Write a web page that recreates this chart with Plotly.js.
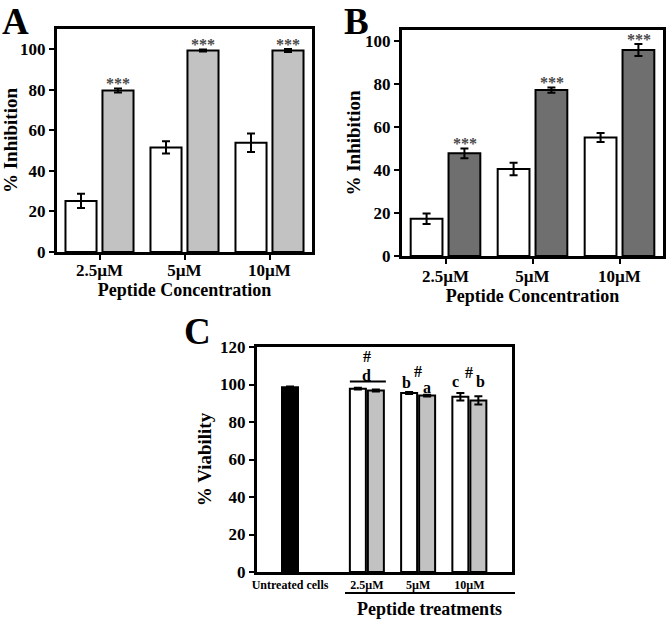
<!DOCTYPE html>
<html>
<head>
<meta charset="utf-8">
<script src="https://cdn.plot.ly/plotly-3.0.1.min.js"></script>
<style>html,body{margin:0;padding:0;background:#fff;}#chart{width:666px;height:619px;}</style>
</head>
<body>
<div id="chart"></div>
<script>
// ---- data ----
const catsAB = ['2.5µM', '5µM', '10µM'];
const aControl = [25.2, 51.6, 53.9];
const aControlErr = [3.5, 3.0, 4.6];
const aPeptide = [79.7, 99.4, 99.4];
const aPeptideErr = [1.0, 0.5, 0.7];
const bControl = [17.3, 40.4, 55.1];
const bControlErr = [2.4, 2.9, 2.1];
const bPeptide = [47.7, 77.1, 95.7];
const bPeptideErr = [2.3, 1.2, 2.8];
const cLabels = ['Untreated cells', '2.5µM', '5µM', '10µM'];
const cUntreated = [98.5];
const cUntreatedErr = [0.5];
const cWhite = [97.8, 95.5, 93.5];
const cWhiteErr = [0.5, 0.5, 2.0];
const cGray = [96.8, 94.1, 91.5];
const cGrayErr = [0.5, 0.5, 2.2];
const cWhiteLetters = ['', 'b', 'c'];
const cGrayLetters = ['', 'a', 'b'];
const cPairLetters = ['d', '', ''];
const cHash = ['#', '#', '#'];
const stars = ['***', '***', '***'];

// ---- style ----
const FONT = 'Liberation Serif, Times New Roman, serif';
const LIGHT = '#c2c2c2';
const DARK = '#6f6f6f';
const cGroupPos = [1.5, 2.5, 3.5];
const cUnit = 51.25;            // px per x unit in panel C
const cBarW = 16 / cUnit;

function err(arr) { return {type: 'data', array: arr, visible: true, color: '#000', thickness: 2, width: 4}; }
const barLine = {color: '#000', width: 2};

const traces = [
  {type: 'bar', x: catsAB, y: aControl, error_y: err(aControlErr), marker: {color: '#fff', line: barLine}, xaxis: 'x', yaxis: 'y'},
  {type: 'bar', x: catsAB, y: aPeptide, error_y: err(aPeptideErr), marker: {color: LIGHT, line: barLine}, xaxis: 'x', yaxis: 'y'},
  {type: 'bar', x: catsAB, y: bControl, error_y: err(bControlErr), marker: {color: '#fff', line: barLine}, xaxis: 'x2', yaxis: 'y2'},
  {type: 'bar', x: catsAB, y: bPeptide, error_y: err(bPeptideErr), marker: {color: DARK, line: barLine}, xaxis: 'x2', yaxis: 'y2'},
  {type: 'bar', x: [0], y: cUntreated, error_y: err(cUntreatedErr), width: cBarW, offset: -cBarW / 2,
   marker: {color: '#000', line: barLine}, xaxis: 'x3', yaxis: 'y3'},
  {type: 'bar', x: cGroupPos, y: cWhite, error_y: err(cWhiteErr), width: cBarW, offset: -17 / cUnit,
   marker: {color: '#fff', line: barLine}, xaxis: 'x3', yaxis: 'y3'},
  {type: 'bar', x: cGroupPos, y: cGray, error_y: err(cGrayErr), width: cBarW, offset: 1 / cUnit,
   marker: {color: LIGHT, line: barLine}, xaxis: 'x3', yaxis: 'y3'}
];

const tf = {family: FONT, size: 17, color: '#000', weight: 'bold'};
const axisCommon = {showline: true, linewidth: 3, linecolor: '#000', mirror: true, showgrid: false, zeroline: false,
  ticks: 'outside', ticklen: 5, tickwidth: 2, tickcolor: '#000', tickfont: tf, fixedrange: true};

const annotations = [];
function letter(txt, x, y, size, yanchor) {
  annotations.push({text: txt, xref: 'paper', yref: 'paper', x: x, y: y, showarrow: false, borderpad: 0,
    font: {family: FONT, size: size, color: '#000', weight: 'bold'}, xanchor: 'center', yanchor: yanchor});
}
letter('A', 15 / 666, 1, 37, 'top');
letter('B', 356 / 666, 1, 37, 'top');
letter('C', 197 / 666, 1 - 331 / 619, 37, 'middle');

const starFont = {family: FONT, size: 16, color: '#4a4a4a', weight: 'bold'};
catsAB.forEach((c, i) => {
  annotations.push({text: stars[i], xref: 'x', yref: 'y', x: c, y: aPeptide[i] + aPeptideErr[i], xshift: 18.5, yshift: -6,
    yanchor: 'bottom', showarrow: false, font: starFont});
  annotations.push({text: stars[i], xref: 'x2', yref: 'y2', x: c, y: bPeptide[i] + bPeptideErr[i], xshift: 19, yshift: -6,
    yanchor: 'bottom', showarrow: false, font: starFont});
});

const cf = {family: FONT, size: 16, color: '#000', weight: 'bold'};
const hashY = [115.0, 106.8, 106.4];
const whiteLetY = [0, 101.2, 101.6];
const grayLetY = [0, 98.4, 101.6];
const whiteShift = [0, -11.5, -13.5];
const grayShift = [0, 8.5, 11.5];
cGroupPos.forEach((p, i) => {
  annotations.push({text: cHash[i], xref: 'x3', yref: 'y3', x: p, y: hashY[i], showarrow: false, font: cf, yanchor: 'middle', borderpad: 0});
  if (cPairLetters[i]) annotations.push({text: cPairLetters[i], xref: 'x3', yref: 'y3', x: p, y: 104.8, showarrow: false, font: cf, yanchor: 'middle', borderpad: 0});
  if (cWhiteLetters[i]) annotations.push({text: cWhiteLetters[i], xref: 'x3', yref: 'y3', x: p, xshift: whiteShift[i], y: whiteLetY[i], showarrow: false, font: cf, yanchor: 'middle', borderpad: 0});
  if (cGrayLetters[i]) annotations.push({text: cGrayLetters[i], xref: 'x3', yref: 'y3', x: p, xshift: grayShift[i], y: grayLetY[i], showarrow: false, font: cf, yanchor: 'middle', borderpad: 0});
});
annotations.push({text: 'Peptide treatments', xref: 'paper', yref: 'paper', x: 429 / 666, y: 1 - 609 / 619, showarrow: false,
  font: {family: FONT, size: 18, color: '#000', weight: 'bold'}, xanchor: 'center', yanchor: 'middle'});

const shapes = [
  {type: 'line', xref: 'x3', yref: 'y3', x0: cGroupPos[0] - 17 / cUnit, x1: cGroupPos[0] + 19 / cUnit, y0: 101.6, y1: 101.6,
   line: {color: '#000', width: 2}},
  {type: 'line', xref: 'paper', yref: 'paper', x0: 345 / 666, x1: 515 / 666, y0: 1 - 593 / 619, y1: 1 - 593 / 619,
   line: {color: '#000', width: 2}}
];

const xTitleFont = {family: FONT, size: 18, color: '#000', weight: 'bold'};
const yTitleFont = {family: FONT, size: 19, color: '#000', weight: 'bold'};
const layout = {
  width: 666, height: 619, margin: {l: 0, r: 0, t: 0, b: 0},
  paper_bgcolor: '#fff', plot_bgcolor: '#fff', showlegend: false,
  barmode: 'group', bargap: 0.13, bargroupgap: 0.16,
  font: {family: FONT, color: '#000'},
  xaxis: Object.assign({}, axisCommon, {domain: [57 / 666, 312 / 666], anchor: 'y', type: 'category', range: [-0.5, 2.5],
    ticklabelstandoff: -4, title: {text: 'Peptide Concentration', font: xTitleFont, standoff: 2}}),
  yaxis: Object.assign({}, axisCommon, {domain: [1 - 252 / 619, 1 - 29 / 619], anchor: 'x', range: [0, 110], dtick: 20,
    title: {text: '% Inhibition', font: yTitleFont, standoff: 0}}),
  xaxis2: Object.assign({}, axisCommon, {domain: [402 / 666, 663 / 666], anchor: 'y2', type: 'category', range: [-0.5, 2.5],
    ticklabelstandoff: -2, title: {text: 'Peptide Concentration', font: xTitleFont, standoff: 0}}),
  yaxis2: Object.assign({}, axisCommon, {domain: [1 - 256 / 619, 1 - 30 / 619], anchor: 'x2', range: [0, 105], dtick: 20,
    title: {text: '% Inhibition', font: yTitleFont, standoff: 0}}),
  xaxis3: Object.assign({}, axisCommon, {domain: [257 / 666, 512 / 666], anchor: 'y3', range: [-0.644, 4.332],
    tickvals: [0].concat(cGroupPos), ticktext: cLabels, ticks: '', tickfont: {family: FONT, size: 12, color: '#000', weight: 'bold'}}),
  yaxis3: Object.assign({}, axisCommon, {domain: [1 - 572 / 619, 1 - 347 / 619], anchor: 'x3', range: [0, 120], dtick: 20,
    title: {text: '% Viability', font: yTitleFont, standoff: 4}}),
  annotations: annotations,
  shapes: shapes
};

Plotly.newPlot('chart', traces, layout, {staticPlot: true, displayModeBar: false});
</script>
</body>
</html>
